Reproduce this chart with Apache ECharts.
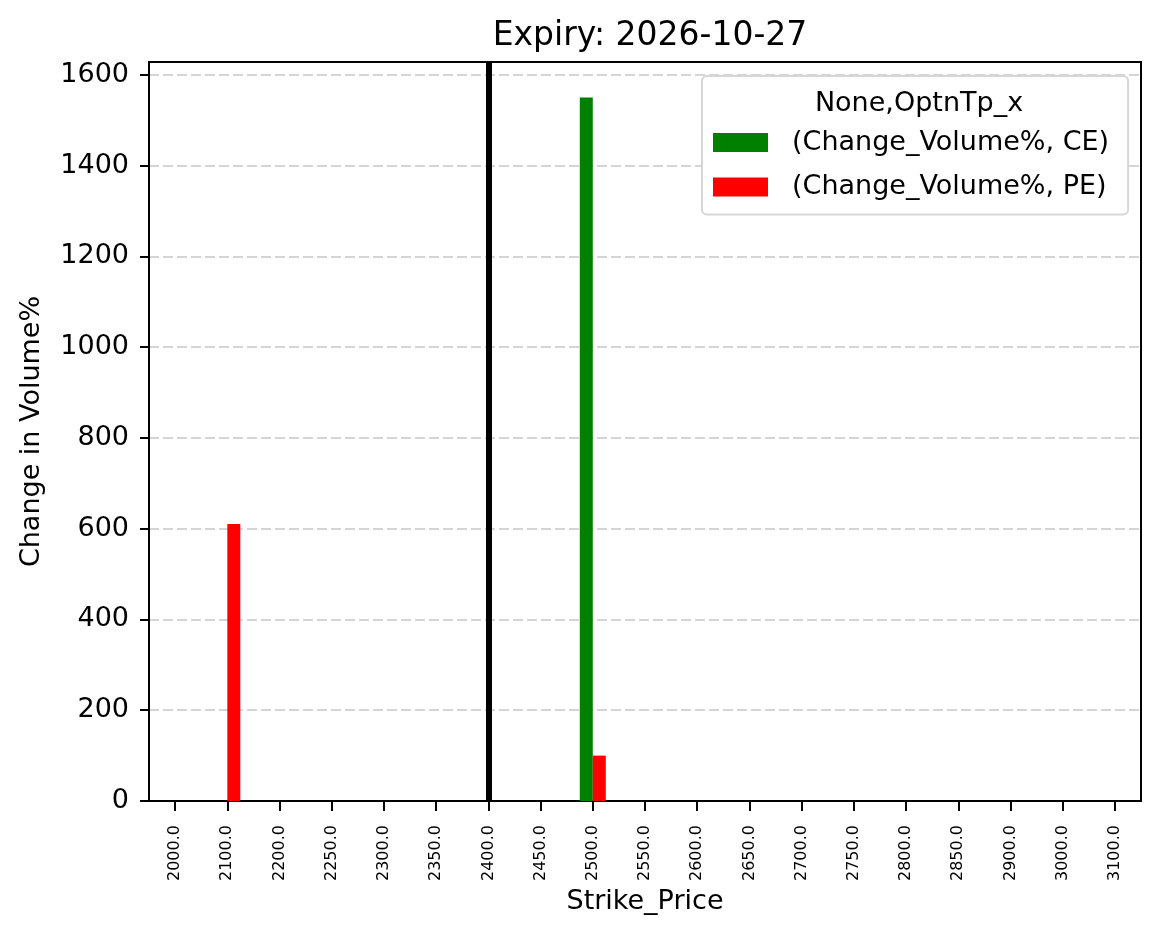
<!DOCTYPE html>
<html>
<head>
<meta charset="utf-8">
<script src="https://cdn.jsdelivr.net/npm/echarts@6/dist/echarts.min.js"></script>
<style>
  html, body { margin: 0; padding: 0; background: #fff; }
  #main { width: 1161px; height: 939px; }
</style>
</head>
<body>
<div id="main"></div>
<script>
// strike prices on the category axis
var strikes = ['2000.0', '2100.0', '2200.0', '2250.0', '2300.0', '2350.0', '2400.0',
    '2450.0', '2500.0', '2550.0', '2600.0', '2650.0', '2700.0', '2750.0', '2800.0',
    '2850.0', '2900.0', '3000.0', '3100.0'];
// change in volume % per strike
var ceValues = [0, 0, 0, 0, 0, 0, 0, 0, 1550, 0, 0, 0, 0, 0, 0, 0, 0, 0, 0];
var peValues = [0, 610, 0, 0, 0, 0, 0, 0, 100, 0, 0, 0, 0, 0, 0, 0, 0, 0, 0];
var spotStrike = '2400.0';

var font = 'DejaVu Sans';

var option = {
    backgroundColor: '#fff',
    animation: false,
    textStyle: { fontFamily: font },
    title: [
        {
            text: 'Expiry: 2026-10-27',
            left: 645, top: 15, textAlign: 'center',
            textStyle: { fontFamily: font, fontSize: 33, fontWeight: 'normal', color: '#000' }
        },
        {
            text: 'None,OptnTp_x',
            left: 914, top: 85, textAlign: 'center',
            textStyle: { fontFamily: font, fontSize: 27, fontWeight: 'normal', color: '#000' }
        }
    ],
    legend: {
        orient: 'vertical',
        left: 702,
        top: 76,
        padding: [53, 19, 14, 11],
        itemWidth: 55,
        itemHeight: 19,
        itemGap: 17.5,
        backgroundColor: '#fff',
        borderColor: '#d6d6d6',
        borderWidth: 2,
        borderRadius: 5,
        icon: 'rect',
        textStyle: { fontFamily: font, fontSize: 27, color: '#000', padding: [0, 0, 0, 19] },
        data: ['(Change_Volume%, CE)', '(Change_Volume%, PE)']
    },
    grid: {
        left: 149, right: 20, top: 62, bottom: 138,
        show: true, borderColor: '#000', borderWidth: 2, backgroundColor: 'transparent'
    },
    xAxis: {
        type: 'category',
        data: strikes,
        name: 'Strike_Price',
        nameLocation: 'middle',
        nameGap: 86,
        nameTextStyle: { fontFamily: font, fontSize: 27, color: '#000' },
        axisLine: { show: true, lineStyle: { color: '#000', width: 2 } },
        axisTick: { show: true, alignWithLabel: true, interval: 0, length: 10, lineStyle: { color: '#000', width: 2 } },
        axisLabel: { interval: 0, rotate: 90, fontSize: 16, color: '#000', margin: 24, fontFamily: font },
        splitLine: { show: false }
    },
    yAxis: {
        type: 'value',
        min: 0,
        max: 1628,
        interval: 200,
        name: 'Change in Volume%',
        nameLocation: 'middle',
        nameGap: 104,
        nameTextStyle: { fontFamily: font, fontSize: 27, color: '#000' },
        axisLine: { show: true, lineStyle: { color: '#000', width: 2 } },
        axisTick: { show: true, length: 9, lineStyle: { color: '#000', width: 2 } },
        axisLabel: {
            fontSize: 27, color: '#000', margin: 20, fontFamily: font, showMaxLabel: false,
            formatter: function (v) { return String(v); }
        },
        splitLine: { show: true, showMaxLine: false, lineStyle: { color: '#c8c8c8', type: [10, 4], width: 1.5 } }
    },
    series: [
        {
            name: '(Change_Volume%, CE)',
            type: 'bar',
            data: ceValues,
            barWidth: 13,
            barGap: '0%',
            itemStyle: { color: '#008000' }
        },
        {
            name: '(Change_Volume%, PE)',
            type: 'bar',
            data: peValues,
            barWidth: 13,
            barGap: '0%',
            itemStyle: { color: '#ff0000' }
        },
        {
            name: 'spot',
            type: 'line',
            data: [],
            markLine: {
                silent: true,
                symbol: 'none',
                label: { show: false },
                lineStyle: { color: '#000', width: 6, type: 'solid' },
                data: [{ xAxis: spotStrike }]
            }
        }
    ]
};

var myChart = echarts.init(document.getElementById('main'));
myChart.setOption(option);
</script>
</body>
</html>
